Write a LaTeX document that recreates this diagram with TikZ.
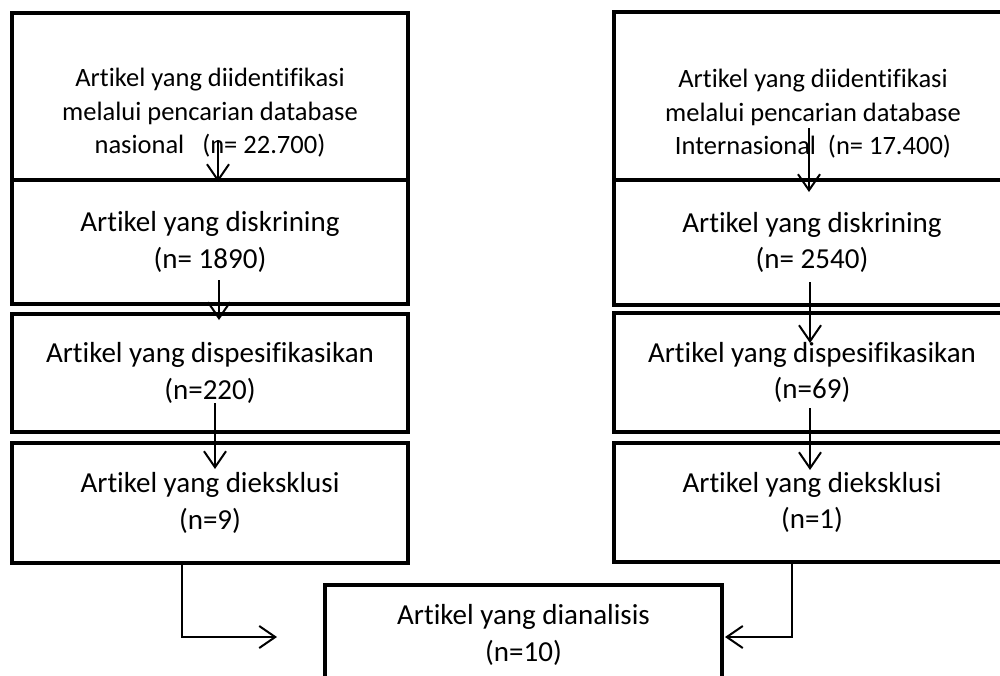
\documentclass[tikz,border=0pt]{standalone}
\usepackage{fontspec}
\setmainfont[Ligatures=NoCommon]{Carlito}
\usetikzlibrary{arrows.meta}
\tikzset{
  box/.style={draw, line width=4.5pt, outer sep=0pt, inner sep=0pt, minimum width=396pt},
  txt/.style={align=center, inner sep=0pt, font=\fontsize{29}{36.5}\selectfont},
  srctxt/.style={align=center, inner sep=0pt, font=\fontsize{26.5}{33.5}\selectfont},
  arr/.style={line width=2pt, -{Straight Barb[length=16pt,width=22pt,line width=2pt]}}
}
\begin{document}
\begin{tikzpicture}[x=1pt, y=-1pt]
      \useasboundingbox[fill=white] (0,0) rectangle (1000,675);
      \draw
        (210,96.5) node[box, minimum height=167pt] (natl){}
        (210,242) node[box, minimum height=124pt, txt] (screenL){Artikel yang diskrining\\(n= 1890)}
        (210,373) node[box, minimum height=118pt, txt] (specL){Artikel yang dispesifikasikan\\(n=220)}
        (210,503) node[box, minimum height=120pt, txt] (exclL){Artikel yang dieksklusi\\(n=9)}
        (812,96) node[box, minimum height=168pt] (intl){}
        (812,242.5) node[box, minimum height=125pt, txt] (screenR){Artikel yang diskrining\\(n= 2540)}
        (812,372.5) node[box, minimum height=119pt, txt] (specR){Artikel yang dispesifikasikan\\(n=69)}
        (812,502.5) node[box, minimum height=119pt, txt] (exclR){Artikel yang dieksklusi\\(n=1)}
        (523.5,635) node[box, minimum width=397pt, minimum height=100pt, txt] (final){Artikel yang dianalisis\\(n=10)};
      \node[srctxt] (natltxt) at (210,113) {Artikel yang diidentifikasi\\melalui pencarian database\\nasional\ \ \ (n= 22.700)};
      \node[srctxt] (intltxt) at (813,114) {Artikel yang diidentifikasi\\melalui pencarian database\\Internasional\ \ (n= 17.400)};
      \begin{scope}[arr]
        \draw ([xshift=8pt,yshift=40pt]natl.south) -- ([xshift=8pt,yshift=-2pt]screenL.north);
        \draw ([xshift=9pt,yshift=24pt]screenL.south) -- ([xshift=9pt,yshift=-6pt]specL.north);
        \draw ([xshift=5pt,yshift=29pt]specL.south) -- ([xshift=5pt,yshift=-26pt]exclL.north);
        \draw ([xshift=-3pt,yshift=52pt]intl.south) -- ([xshift=-3pt,yshift=-12pt]screenR.north);
        \draw ([xshift=-2pt,yshift=23pt]screenR.south) -- ([xshift=-2pt,yshift=-30pt]specR.north);
        \draw ([xshift=-2pt,yshift=24pt]specR.south) -- ([xshift=-2pt,yshift=-27pt]exclR.north);
        \draw ([xshift=-28pt]exclL.south) |- ([xshift=-48pt,yshift=-2pt]final.west);
        \draw ([xshift=-20pt]exclR.south) |- ([xshift=3pt,yshift=-2pt]final.east);
      \end{scope}
    \end{tikzpicture}
\end{document}
